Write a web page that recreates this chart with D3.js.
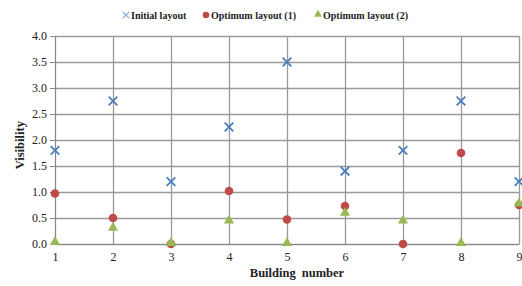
<!DOCTYPE html>
<html>
<head>
<meta charset="utf-8">
<script src="https://cdn.jsdelivr.net/npm/d3@7"></script>
<style>
  body { margin: 0; background: #fff; }
  svg text { font-family: "Liberation Serif", Tinos, "DejaVu Serif", serif !important; }
</style>
</head>
<body>
<svg id="chart" width="522" height="286"></svg>
<script>
// building numbers and visibility values per layout
const buildings = [1, 2, 3, 4, 5, 6, 7, 8, 9];
const initialLayout = [1.8, 2.75, 1.2, 2.25, 3.5, 1.4, 1.8, 2.75, 1.2];
const optimum1 = [0.97, 0.5, 0.0, 1.02, 0.47, 0.73, 0.0, 1.75, 0.75];
const optimum2 = [0.02, 0.29, 0.0, 0.43, 0.0, 0.58, 0.43, 0.0, 0.76];
const yTicks = [0, 0.5, 1, 1.5, 2, 2.5, 3, 3.5, 4];

const svg = d3.select('#chart');
const margin = { left: 55, right: 3, top: 36, bottom: 42 };
const width = 522, height = 286;

const x = d3.scaleLinear().domain([1, 9]).range([margin.left, width - margin.right]);
const y = d3.scaleLinear().domain([0, 4]).range([height - margin.bottom, margin.top]);

// gridlines
svg.append('g')
    .attr('transform', `translate(${margin.left},0)`)
    .call(d3.axisLeft(y).tickValues(yTicks).tickSize(-(width - margin.left - margin.right)).tickFormat(''))
    .call(g => g.select('.domain').remove())
    .selectAll('line').attr('stroke', '#9a9a9a').attr('stroke-width', 1.3);

svg.append('g')
    .attr('transform', `translate(0,${margin.top})`)
    .call(d3.axisTop(x).tickValues(buildings).tickSize(-(height - margin.top - margin.bottom)).tickFormat(''))
    .call(g => g.select('.domain').remove())
    .selectAll('line').attr('stroke', '#9a9a9a').attr('stroke-width', 1.3);

// y axis labels
const yAxis = svg.append('g')
    .attr('transform', `translate(${margin.left},0)`)
    .call(d3.axisLeft(y).tickValues(yTicks).tickSize(5).tickFormat(d3.format('.1f')));
yAxis.select('.domain').attr('stroke', '#888');
yAxis.selectAll('line').attr('stroke', '#888');
yAxis.selectAll('text').attr('font-size', 12).attr('fill', '#222');

// x axis labels
const xAxis = svg.append('g')
    .attr('transform', `translate(0,${height - margin.bottom})`)
    .call(d3.axisBottom(x).tickValues(buildings).tickSize(0).tickPadding(8).tickFormat(d3.format('d')));
xAxis.select('.domain').attr('stroke', '#888');
xAxis.selectAll('text').attr('font-size', 12).attr('fill', '#222');

// axis titles
svg.append('text')
    .attr('x', (margin.left + width - margin.right) / 2 + 10)
    .attr('y', 277)
    .attr('text-anchor', 'middle')
    .attr('font-size', 12.5).attr('font-weight', 'bold').attr('fill', '#222')
    .attr('word-spacing', 3)
    .text('Building number');

svg.append('text')
    .attr('transform', `translate(24,${y(1.9)}) rotate(-90)`)
    .attr('text-anchor', 'middle')
    .attr('font-size', 12.5).attr('font-weight', 'bold').attr('fill', '#222')
    .text('Visibility');

const blue = '#4a7ebb', red = '#be4b48', green = '#98b954';
const cross = d3.symbol().type(d3.symbolX).size(50);
const tri = d3.symbol().type(d3.symbolTriangle).size(45);

// markers
svg.append('g').selectAll('path')
    .data(buildings.map((b, i) => [b, initialLayout[i]]))
    .join('path')
    .attr('d', cross)
    .attr('transform', d => `translate(${x(d[0])},${y(d[1])})`)
    .attr('stroke', blue).attr('stroke-width', 1.8).attr('fill', 'none');

svg.append('g').selectAll('circle')
    .data(buildings.map((b, i) => [b, optimum1[i]]))
    .join('circle')
    .attr('cx', d => x(d[0])).attr('cy', d => y(d[1])).attr('r', 4.3)
    .attr('fill', red);

svg.append('g').selectAll('path')
    .data(buildings.map((b, i) => [b, optimum2[i]]))
    .join('path')
    .attr('d', tri)
    .attr('transform', d => `translate(${x(d[0])},${y(d[1]) - 1})`)
    .attr('fill', green);

// legend
const legend = svg.append('g').attr('font-size', 10).attr('fill', '#222');
const legendItems = [
    { label: 'Initial layout', x: 126, kind: 'x' },
    { label: 'Optimum layout (1)', x: 206, kind: 'c' },
    { label: 'Optimum layout (2)', x: 318, kind: 't' }
];
legendItems.forEach(it => {
    if (it.kind === 'x') {
        legend.append('path').attr('d', d3.symbol().type(d3.symbolX).size(30))
            .attr('transform', `translate(${it.x},15)`).attr('stroke', '#8fb0dd').attr('stroke-width', 1.2);
    } else if (it.kind === 'c') {
        legend.append('circle').attr('cx', it.x).attr('cy', 15).attr('r', 3.3).attr('fill', red);
    } else {
        legend.append('path').attr('d', d3.symbol().type(d3.symbolTriangle).size(28))
            .attr('transform', `translate(${it.x},14.5)`).attr('fill', green);
    }
    legend.append('text').attr('x', it.x + 5).attr('y', 18.5)
        .attr('font-weight', 'bold').text(it.label);
});
</script>
</body>
</html>
